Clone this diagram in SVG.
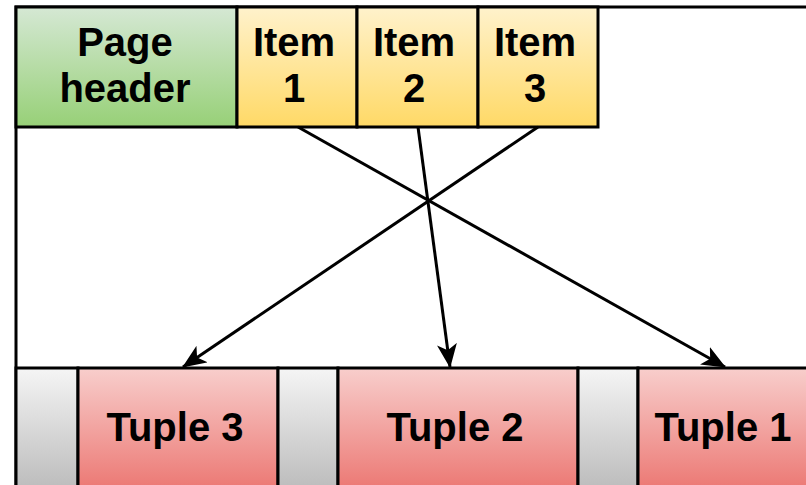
<svg xmlns="http://www.w3.org/2000/svg" width="806" height="485" viewBox="0 0 806 485">
  <defs>
    <linearGradient id="gGreen" x1="0" y1="0" x2="0" y2="1">
      <stop offset="0" stop-color="#d5e8d4"/>
      <stop offset="1" stop-color="#97d077"/>
    </linearGradient>
    <linearGradient id="gYellow" x1="0" y1="0" x2="0" y2="1">
      <stop offset="0" stop-color="#fff2cc"/>
      <stop offset="1" stop-color="#ffd966"/>
    </linearGradient>
    <linearGradient id="gRed" x1="0" y1="0" x2="0" y2="1">
      <stop offset="0" stop-color="#f8cecc"/>
      <stop offset="1" stop-color="#ea6b66"/>
    </linearGradient>
    <linearGradient id="gGrey" x1="0" y1="0" x2="0" y2="1">
      <stop offset="0" stop-color="#f5f5f5"/>
      <stop offset="1" stop-color="#b3b3b3"/>
    </linearGradient>
    <marker id="arrow" viewBox="0 0 24 20" refX="23" refY="10" markerWidth="24" markerHeight="20" orient="auto" markerUnits="userSpaceOnUse">
      <path d="M0,0 L24,10 L0,20 L6,10 Z" fill="#000"/>
    </marker>
  </defs>
  <style>
    .cell { stroke: #000; stroke-width: 3; }
    .lbl { font-family: "Liberation Sans", Arial, sans-serif; font-weight: bold; font-size: 40px; fill: #000; text-anchor: middle; }
    .edge { stroke: #000; stroke-width: 3; fill: none; marker-end: url(#arrow); }
  </style>

  <rect width="806" height="485" fill="#fff"/>

  <!-- page outline -->
  <g id="page">
    <path d="M16,500 L16,7 L820,7" fill="none" stroke="#000" stroke-width="3"/>
  </g>

  <!-- header row -->
  <g id="page-header">
    <rect class="cell" x="16" y="7" width="221" height="120" fill="url(#gGreen)"/>
    <text class="lbl" x="125" y="56">Page</text>
    <text class="lbl" x="125" y="102">header</text>
  </g>
  <g id="item1">
    <rect class="cell" x="237" y="7" width="120" height="120" fill="url(#gYellow)"/>
    <text class="lbl" x="294" y="56">Item</text>
    <text class="lbl" x="294" y="102">1</text>
  </g>
  <g id="item2">
    <rect class="cell" x="357" y="7" width="121" height="120" fill="url(#gYellow)"/>
    <text class="lbl" x="414" y="56">Item</text>
    <text class="lbl" x="414" y="102">2</text>
  </g>
  <g id="item3">
    <rect class="cell" x="478" y="7" width="120" height="120" fill="url(#gYellow)"/>
    <text class="lbl" x="535" y="56">Item</text>
    <text class="lbl" x="535" y="102">3</text>
  </g>

  <!-- tuple row -->
  <g id="free1">
    <rect class="cell" x="16" y="368" width="62" height="140" fill="url(#gGrey)"/>
  </g>
  <g id="tuple3">
    <rect class="cell" x="78" y="368" width="200" height="140" fill="url(#gRed)"/>
    <text class="lbl" x="175" y="441">Tuple 3</text>
  </g>
  <g id="free2">
    <rect class="cell" x="278" y="368" width="60" height="140" fill="url(#gGrey)"/>
  </g>
  <g id="tuple2">
    <rect class="cell" x="338" y="368" width="240" height="140" fill="url(#gRed)"/>
    <text class="lbl" x="455" y="441">Tuple 2</text>
  </g>
  <g id="free3">
    <rect class="cell" x="578" y="368" width="60" height="140" fill="url(#gGrey)"/>
  </g>
  <g id="tuple1">
    <rect class="cell" x="638" y="368" width="200" height="140" fill="url(#gRed)"/>
    <text class="lbl" x="723" y="441">Tuple 1</text>
  </g>

  <!-- item pointers -->
  <g id="connectors">
    <line class="edge" x1="298" y1="127" x2="725" y2="367"/>
    <line class="edge" x1="418" y1="127" x2="450" y2="367"/>
    <line class="edge" x1="538" y1="127" x2="183" y2="367"/>
  </g>
</svg>
